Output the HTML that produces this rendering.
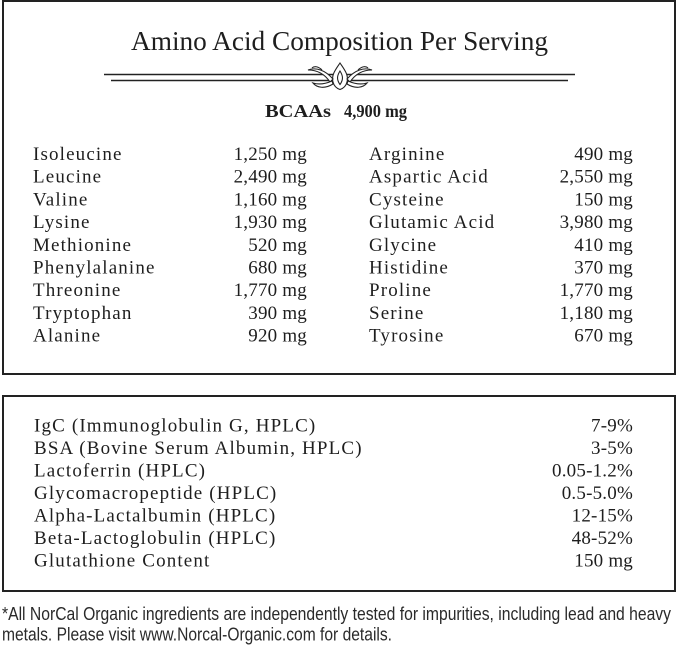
<!DOCTYPE html>
<html>
<head>
<meta charset="utf-8">
<style>
  html,body{margin:0;padding:0;background:#fff;}
  body{width:679px;height:650px;overflow:hidden;}
  svg{display:block;}
  .s{font-family:"Liberation Serif",serif;fill:#1e1e1e;}
  .n{font-size:19px;letter-spacing:1.15px;}
  .v{font-size:19px;letter-spacing:0.2px;text-anchor:end;}
</style>
</head>
<body>
<svg width="679" height="650" viewBox="0 0 679 650" xmlns="http://www.w3.org/2000/svg">
  <rect x="0" y="0" width="679" height="650" fill="#fff"/>
  <rect x="3" y="1" width="672" height="373" fill="none" stroke="#222" stroke-width="2"/>
  <rect x="3" y="396" width="672" height="195" fill="none" stroke="#222" stroke-width="2"/>

  <text class="s" x="131" y="50" font-size="27" textLength="417" lengthAdjust="spacingAndGlyphs">Amino Acid Composition Per Serving</text>

  <line x1="104" y1="74.5" x2="575" y2="74.5" stroke="#222" stroke-width="1.6"/>
  <line x1="111" y1="80.5" x2="568" y2="80.5" stroke="#222" stroke-width="1.6"/>

  <g stroke="#222" stroke-width="1.1" fill="#fff">
    <path d="M340,63 C344,69 349,75 347,82 C346,86 343,88.5 340,89.5 C337,88.5 334,86 333,82 C331,75 336,69 340,63 Z"/>
    <path d="M340,71 C342.5,75 344,79 340,84.5 C336,79 337.5,75 340,71 Z" fill="none"/>
    <path d="M333,79 C325,70 316,67 308,70 C316,70 324,73 330,82 Z"/>
    <path d="M347,79 C355,70 364,67 372,70 C364,70 356,73 350,82 Z"/>
    <path d="M333,84 C325,89 317,88 313,83 C319,85 325,84 332,81 Z"/>
    <path d="M347,84 C355,89 363,88 367,83 C361,85 355,84 348,81 Z"/>
    <path d="M322,70 C318,66 314,66 312,68" fill="none"/>
    <path d="M358,70 C362,66 366,66 368,68" fill="none"/>
  </g>

  <text class="s" x="265" y="117" font-size="17.5" font-weight="bold" textLength="66" lengthAdjust="spacingAndGlyphs">BCAAs</text>
  <text class="s" x="344" y="117" font-size="17.5" font-weight="bold" textLength="63" lengthAdjust="spacingAndGlyphs">4,900 mg</text>

  <g class="s">
    <text class="n" x="33" y="160">Isoleucine</text>
    <text class="n" x="33" y="182.7">Leucine</text>
    <text class="n" x="33" y="205.4">Valine</text>
    <text class="n" x="33" y="228.1">Lysine</text>
    <text class="n" x="33" y="250.8">Methionine</text>
    <text class="n" x="33" y="273.5">Phenylalanine</text>
    <text class="n" x="33" y="296.2">Threonine</text>
    <text class="n" x="33" y="318.9">Tryptophan</text>
    <text class="n" x="33" y="341.6">Alanine</text>

    <text class="v" x="307" y="160">1,250 mg</text>
    <text class="v" x="307" y="182.7">2,490 mg</text>
    <text class="v" x="307" y="205.4">1,160 mg</text>
    <text class="v" x="307" y="228.1">1,930 mg</text>
    <text class="v" x="307" y="250.8">520 mg</text>
    <text class="v" x="307" y="273.5">680 mg</text>
    <text class="v" x="307" y="296.2">1,770 mg</text>
    <text class="v" x="307" y="318.9">390 mg</text>
    <text class="v" x="307" y="341.6">920 mg</text>
  </g>

  <g class="s">
    <text class="n" x="369" y="160">Arginine</text>
    <text class="n" x="369" y="182.7">Aspartic Acid</text>
    <text class="n" x="369" y="205.4">Cysteine</text>
    <text class="n" x="369" y="228.1">Glutamic Acid</text>
    <text class="n" x="369" y="250.8">Glycine</text>
    <text class="n" x="369" y="273.5">Histidine</text>
    <text class="n" x="369" y="296.2">Proline</text>
    <text class="n" x="369" y="318.9">Serine</text>
    <text class="n" x="369" y="341.6">Tyrosine</text>

    <text class="v" x="633" y="160">490 mg</text>
    <text class="v" x="633" y="182.7">2,550 mg</text>
    <text class="v" x="633" y="205.4">150 mg</text>
    <text class="v" x="633" y="228.1">3,980 mg</text>
    <text class="v" x="633" y="250.8">410 mg</text>
    <text class="v" x="633" y="273.5">370 mg</text>
    <text class="v" x="633" y="296.2">1,770 mg</text>
    <text class="v" x="633" y="318.9">1,180 mg</text>
    <text class="v" x="633" y="341.6">670 mg</text>
  </g>

  <g class="s">
    <text class="n" x="34" y="431.7">IgC (Immunoglobulin G, HPLC)</text>
    <text class="n" x="34" y="454.2">BSA (Bovine Serum Albumin, HPLC)</text>
    <text class="n" x="34" y="476.7">Lactoferrin (HPLC)</text>
    <text class="n" x="34" y="499.2">Glycomacropeptide (HPLC)</text>
    <text class="n" x="34" y="521.7">Alpha-Lactalbumin (HPLC)</text>
    <text class="n" x="34" y="544.2">Beta-Lactoglobulin (HPLC)</text>
    <text class="n" x="34" y="566.7">Glutathione Content</text>

    <text class="v" x="633" y="431.7">7-9%</text>
    <text class="v" x="633" y="454.2">3-5%</text>
    <text class="v" x="633" y="476.7">0.05-1.2%</text>
    <text class="v" x="633" y="499.2">0.5-5.0%</text>
    <text class="v" x="633" y="521.7">12-15%</text>
    <text class="v" x="633" y="544.2">48-52%</text>
    <text class="v" x="633" y="566.7">150 mg</text>
  </g>

  <text x="2" y="620" font-family="Liberation Sans, sans-serif" font-size="18" fill="#2a2a2a" textLength="669" lengthAdjust="spacingAndGlyphs">*All NorCal Organic ingredients are independently tested for impurities, including lead and heavy</text>
  <text x="2" y="640.5" font-family="Liberation Sans, sans-serif" font-size="18" fill="#2a2a2a" textLength="390" lengthAdjust="spacingAndGlyphs">metals. Please visit www.Norcal-Organic.com for details.</text>
</svg>
</body>
</html>
